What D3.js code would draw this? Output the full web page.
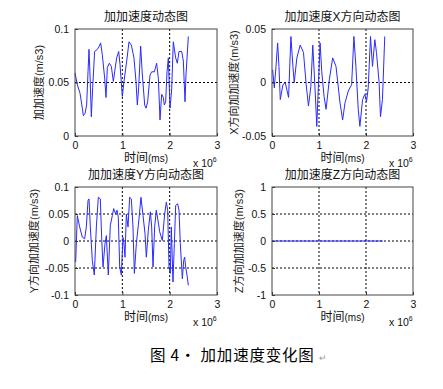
<!DOCTYPE html>
<html>
<head>
<meta charset="utf-8">
<script src="https://cdn.jsdelivr.net/npm/d3@7"></script>
<style>
  body { margin: 0; background: #fff; }
  text { font-family: Arial, "Liberation Sans", "Noto Sans CJK SC", sans-serif; }
</style>
</head>
<body>
<div id="chart"></div>
<script>
// time axis in units of 10^6 ms
var timeTicks = [0, 1, 2, 3];

// total jerk
var tTotal = [0,0.049,0.106,0.155,0.176,0.211,0.246,0.275,0.296,0.317,0.345,0.373,0.415,0.472,0.514,0.542,0.577,0.627,0.655,0.683,
  0.725,0.768,0.810,0.838,0.880,0.923,0.951,1.000,1.035,1.092,1.141,1.190,1.246,1.289,1.317,1.345,1.387,1.423,1.472,1.500,
  1.535,1.585,1.620,1.676,1.725,1.761,1.796,1.831,1.866,1.887,1.915,1.944,1.972,2.007,2.042,2.077,2.127,2.162,2.197,2.254,
  2.289,2.324,2.345,2.394];
var jerkTotal = [0.059,0.048,0.040,0.026,0.019,0.021,0.029,0.060,0.081,0.057,0.018,0.045,0.079,0.081,0.084,0.087,0.076,0.054,0.036,0.064,
  0.068,0.065,0.051,0.060,0.073,0.079,0.067,0.037,0.051,0.070,0.088,0.085,0.073,0.051,0.029,0.045,0.084,0.057,0.029,0.026,
  0.032,0.057,0.060,0.060,0.068,0.054,0.015,0.039,0.036,0.029,0.032,0.060,0.073,0.026,0.043,0.088,0.073,0.068,0.079,0.079,
  0.070,0.032,0.057,0.093];

// X direction
var tX = [0.014,0.049,0.085,0.120,0.148,0.176,0.233,0.282,0.353,0.402,0.445,0.473,0.529,0.600,0.670,0.727,0.776,0.826,0.868,0.917,
  0.953,1.023,1.059,1.108,1.150,1.221,1.291,1.362,1.447,1.503,1.553,1.623,1.694,1.743,1.785,1.835,1.870,1.927,1.976,2.011,
  2.047,2.096,2.138,2.188,2.223,2.279,2.308,2.350,2.399];
var jerkX = [0.012,-0.005,0.015,0.037,0.015,-0.016,-0.002,0.000,-0.014,0.043,0.015,0.000,0.023,0.035,0.028,-0.002,-0.022,-0.004,0.035,-0.007,
  -0.041,0.037,0.010,-0.013,-0.025,0.003,0.023,0.015,-0.019,-0.035,-0.019,-0.008,-0.002,0.043,0.015,-0.025,-0.041,-0.016,-0.011,-0.018,
  -0.005,0.043,0.015,0.040,0.028,0.000,-0.032,-0.016,0.043];

// Y direction
var tY = [0.014,0.049,0.099,0.155,0.204,0.239,0.275,0.296,0.324,0.366,0.408,0.451,0.493,0.535,0.563,0.592,0.634,0.662,0.704,0.746,
  0.789,0.817,0.859,0.887,0.915,0.944,0.979,1.014,1.035,1.056,1.085,1.120,1.155,1.190,1.225,1.254,1.296,1.352,1.394,1.437,
  1.479,1.507,1.549,1.592,1.620,1.648,1.683,1.718,1.754,1.789,1.845,1.894,1.930,1.958,1.986,2.014,2.035,2.070,2.099,2.127,
  2.169,2.197,2.225,2.268,2.296,2.317,2.338,2.366,2.394];
var jerkY = [-0.039,0.047,0.026,0.007,0.004,0.026,0.075,0.078,0.026,-0.036,-0.063,0.026,0.081,0.078,0.007,-0.048,-0.005,0.010,-0.063,0.029,
  0.047,0.060,0.050,0.057,0.044,-0.048,-0.063,0.007,-0.005,-0.030,0.050,0.026,0.081,0.078,0.026,-0.060,-0.005,0.041,0.081,0.047,
  0.014,-0.030,0.020,0.054,0.026,-0.048,0.026,0.057,0.038,0.017,0.001,0.050,0.072,0.057,-0.048,-0.060,0.026,-0.076,-0.005,0.066,
  0.069,0.057,-0.005,-0.070,-0.036,-0.030,-0.048,-0.063,-0.082];

// Z direction
var tZ = [0, 2.36];
var jerkZ = [0, 0];

var ticksTotal = [0, 0.05, 0.1], labelsTotal = ["0", "0.05", "0.1"];
var ticksX = [-0.05, 0, 0.05], labelsX = ["-0.05", "0", "0.05"];
var ticksY = [-0.1, -0.05, 0, 0.05, 0.1], labelsY = ["-0.1", "-0.05", "0", "0.05", "0.1"];
var ticksZ = [-1, -0.5, 0, 0.5, 1], labelsZ = ["-1", "-0.5", "0", "0.5", "1"];

var titles = ["加加速度动态图", "加加速度X方向动态图", "加加速度Y方向动态图", "加加速度Z方向动态图"];
var yLabels = ["加加速度(m/s3)", "X方向加加速度(m/s3)", "Y方向加加速度(m/s3)", "Z方向加加速度(m/s3)"];
var caption = "图 4· 加加速度变化图";

var W = 443, H = 389;
var svg = d3.select("#chart").append("svg")
    .attr("width", W)
    .attr("height", H);
svg.append("rect").attr("width", W).attr("height", H).attr("fill", "#fff");

var panels = [
  {box: [75, 29, 217, 136], t: tTotal, v: jerkTotal, ticks: ticksTotal, labels: labelsTotal, labX: 39},
  {box: [272, 29, 413, 136], t: tX, v: jerkX, ticks: ticksX, labels: labelsX, labX: 234},
  {box: [75, 187, 217, 295], t: tY, v: jerkY, ticks: ticksY, labels: labelsY, labX: 34},
  {box: [272, 187, 413, 295], t: tZ, v: jerkZ, ticks: ticksZ, labels: labelsZ, labX: 239}
];

panels.forEach(function(p, k) {
  var x0 = p.box[0], y0 = p.box[1], x1 = p.box[2], y1 = p.box[3];
  var x = d3.scaleLinear().domain([0, 3]).range([x0, x1]);
  var y = d3.scaleLinear().domain([p.ticks[0], p.ticks[p.ticks.length - 1]]).range([y1, y0]);
  var g = svg.append("g");

  // grid (inner ticks only)
  g.selectAll(".gx").data(timeTicks.slice(1, -1)).enter().append("line")
    .attr("x1", function(d) { return x(d); }).attr("x2", function(d) { return x(d); })
    .attr("y1", y0).attr("y2", y1)
    .attr("stroke", "#000").attr("stroke-width", 1).attr("stroke-dasharray", "2,2");
  g.selectAll(".gy").data(p.ticks.slice(1, -1)).enter().append("line")
    .attr("x1", x0).attr("x2", x1)
    .attr("y1", function(d) { return y(d); }).attr("y2", function(d) { return y(d); })
    .attr("stroke", "#000").attr("stroke-width", 1).attr("stroke-dasharray", "2,2");

  // data line
  var line = d3.line()
    .x(function(d) { return x(d[0]); })
    .y(function(d) { return y(d[1]); });
  var pts = p.t.map(function(t, i) { return [t, p.v[i]]; });
  g.append("path").datum(pts)
    .attr("d", line)
    .attr("fill", "none")
    .attr("stroke", "#2a2aff")
    .attr("stroke-width", 1);

  // axes: ticks pointing inward
  var ax = g.append("g").attr("transform", "translate(0," + y1 + ")")
    .call(d3.axisBottom(x).tickValues(timeTicks).tickSizeInner(-3).tickSizeOuter(0).tickPadding(6)
      .tickFormat(d3.format("d")));
  var ay = g.append("g").attr("transform", "translate(" + x0 + ",0)")
    .call(d3.axisLeft(y).tickValues(p.ticks).tickSizeInner(-3).tickSizeOuter(0).tickPadding(6)
      .tickFormat(function(d, i) { return p.labels[i]; }));
  [ax, ay].forEach(function(a) {
    a.select(".domain").remove();
    a.selectAll("line").attr("stroke", "#333");
    a.selectAll("text").attr("fill", "#111").style("font-size", "10.5px")
      .style("font-family", "Arial, 'Liberation Sans', sans-serif");
  });

  // box
  g.append("rect")
    .attr("x", x0).attr("y", y0).attr("width", x1 - x0).attr("height", y1 - y0)
    .attr("fill", "none").attr("stroke", "#444").attr("stroke-width", 1);

  // title
  g.append("text")
    .attr("x", (x0 + x1) / 2).attr("y", y0 - 8)
    .attr("text-anchor", "middle")
    .style("font-size", "12px")
    .attr("fill", "#111")
    .text(titles[k]);

  // x label
  var xl = g.append("text")
    .attr("x", (x0 + x1) / 2).attr("y", y1 + 26)
    .attr("text-anchor", "middle")
    .attr("fill", "#111");
  xl.append("tspan").style("font-size", "12px").text("时间");
  xl.append("tspan").style("font-size", "10px").text("(ms)");

  // exponent
  var ex = g.append("text")
    .attr("x", x1 - 24).attr("y", y1 + 31)
    .attr("fill", "#111")
    .style("font-size", "10.5px");
  ex.append("tspan").text("x 10");
  ex.append("tspan").attr("dy", -5).style("font-size", "7px").text("6");

  // y label
  g.append("text")
    .attr("transform", "translate(" + p.labX + "," + ((y0 + y1) / 2) + ") rotate(-90)")
    .attr("text-anchor", "middle")
    .attr("dy", "0.35em")
    .attr("fill", "#222")
    .style("font-size", "11px")
    .text(yLabels[k]);
});

// caption
svg.append("text")
  .attr("x", 150).attr("y", 361)
  .attr("fill", "#000")
  .style("font-size", "15.5px")
  .style("letter-spacing", "0.8px")
  .style("font-family", "'Noto Sans CJK SC', sans-serif")
  .text(caption);
svg.append("text")
  .attr("x", 319).attr("y", 361)
  .attr("fill", "#999")
  .style("font-size", "9px")
  .text("↵");
</script>
</body>
</html>
